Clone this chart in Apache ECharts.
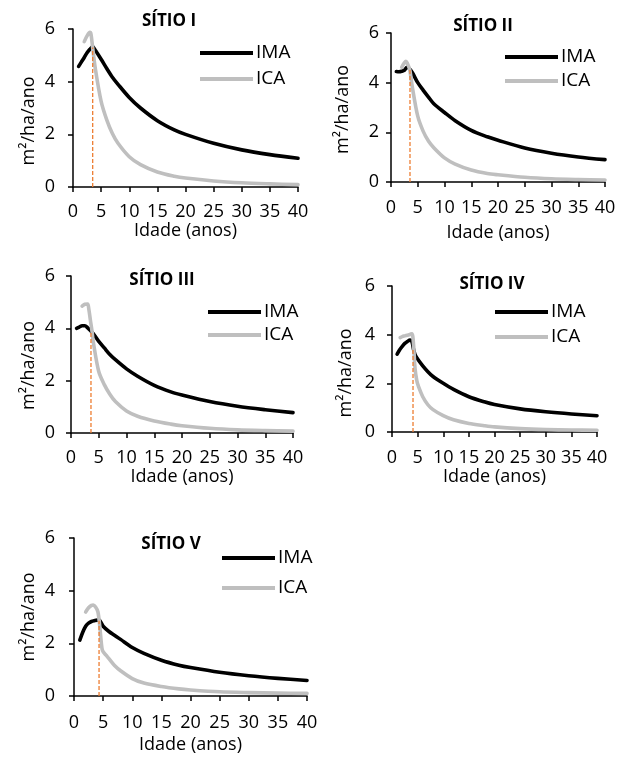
<!DOCTYPE html>
<html>
<head>
<meta charset="utf-8">
<script src="https://cdn.jsdelivr.net/npm/echarts@6/dist/echarts.min.js"></script>
<style>
html,body{margin:0;padding:0;background:#fff;}
#chart{width:627px;height:760px;}
</style>
</head>
<body>
<div id="chart"></div>
<script>
// ---- data ----
const siteTitles = ['SÍTIO I', 'SÍTIO II', 'SÍTIO III', 'SÍTIO IV', 'SÍTIO V'];
const seriesNames = ['IMA', 'ICA'];
const xAxisName = 'Idade (anos)';
const yAxisName = 'm²/ha/ano';

const imaX1 = [1,1.5,2,2.5,3,3.5,4,5,6,7,8,10,12,15,18,20,25,30,35,40];
const imaY1 = [4.58,4.75,4.92,5.1,5.23,5.33,5.18,4.85,4.5,4.17,3.9,3.4,3.0,2.52,2.17,2.0,1.66,1.41,1.23,1.09];
const icaX1 = [2,2.5,3,3.2,3.5,4,5,6,7,8,10,12,15,18,20,25,30,35,40];
const icaY1 = [5.52,5.74,5.87,5.8,5.28,4.45,3.25,2.55,2.03,1.66,1.15,0.85,0.57,0.41,0.34,0.23,0.16,0.12,0.09];

const imaX2 = [1,1.5,2,2.5,3,3.5,4,5,6,7,8,10,12,15,18,20,25,30,35,40];
const imaY2 = [4.45,4.44,4.46,4.5,4.62,4.55,4.4,4.0,3.7,3.42,3.15,2.8,2.47,2.08,1.82,1.68,1.37,1.16,1.01,0.9];
const icaX2 = [2,2.5,2.8,3,3.5,4,5,6,7,8,10,12,15,18,20,25,30,35,40];
const icaY2 = [4.62,4.8,4.86,4.8,4.52,3.8,2.65,2.05,1.65,1.38,0.97,0.72,0.48,0.34,0.29,0.19,0.13,0.1,0.08];

const imaX3 = [1,1.5,2,2.5,3,3.5,4,5,6,7,8,10,12,15,18,20,25,30,35,40];
const imaY3 = [4.0,4.05,4.1,4.1,4.02,3.92,3.8,3.5,3.25,3.0,2.8,2.45,2.17,1.82,1.57,1.45,1.2,1.02,0.89,0.78];
const icaX3 = [2,2.5,3,3.2,3.5,3.8,4,5,6,7,8,10,12,15,18,20,25,30,35,40];
const icaY3 = [4.85,4.92,4.93,4.75,4.3,3.87,3.5,2.35,1.85,1.48,1.2,0.84,0.64,0.46,0.34,0.28,0.18,0.12,0.09,0.07];

const imaX4 = [1,1.5,2,2.5,3,3.5,3.9,4.2,4.5,5,6,7,8,10,12,15,18,20,25,30,35,40];
const imaY4 = [3.2,3.38,3.52,3.64,3.72,3.78,3.7,3.4,3.18,3.0,2.72,2.48,2.28,2.0,1.75,1.45,1.24,1.13,0.95,0.83,0.74,0.67];
const icaX4 = [1.6,2,2.5,3,3.5,3.9,4.2,4.5,4.85,5.2,6,7,8,10,12,15,18,20,25,30,35,40];
const icaY4 = [3.88,3.92,3.95,3.98,4.01,4.04,3.6,2.6,2.1,1.85,1.45,1.12,0.92,0.67,0.5,0.35,0.26,0.21,0.14,0.1,0.08,0.07];

const imaX5 = [1,1.5,2,2.5,3,3.5,4,4.3,5,6,7,8,10,12,15,18,20,25,30,35,40];
const imaY5 = [2.12,2.42,2.65,2.77,2.83,2.86,2.88,2.88,2.65,2.45,2.3,2.15,1.84,1.62,1.36,1.17,1.08,0.9,0.77,0.67,0.59];
const icaX5 = [2,2.5,3,3.3,3.7,4.1,4.4,4.7,4.9,5.5,6,7,8,10,12,15,18,20,25,30,35,40];
const icaY5 = [3.19,3.35,3.44,3.45,3.38,3.2,2.7,2.0,1.72,1.55,1.42,1.15,0.96,0.66,0.49,0.36,0.27,0.23,0.16,0.13,0.11,0.1];

// age and value where IMA = ICA (orange dashed marker), one per site
const crossX = [3.5, 3.55, 3.6, 4.1, 4.3];
const crossY = [5.3, 4.55, 3.88, 3.4, 2.86];

const xTicks = {min: 0, max: 40, interval: 5};
const yTicks = {min: 0, max: 6, interval: 2};

// ---- layout (positions / styles only) ----
const FONT = '"Open Sans", sans-serif';
const grids = [
  {left: 73, top: 29, width: 225, height: 158},
  {left: 391, top: 33, width: 214, height: 149},
  {left: 71, top: 276, width: 222, height: 157},
  {left: 392, top: 286, width: 205, height: 146},
  {left: 74, top: 538, width: 233, height: 158}
];
const titlePos = [[169, 21], [483, 26], [162, 280], [492, 284], [171, 544]];
const legendPos = [
  {left: 200, top: 43, gap: 6},
  {left: 505, top: 47, gap: 4},
  {left: 208, top: 302, gap: 3},
  {left: 495, top: 302, gap: 5},
  {left: 222, top: 548, gap: 10}
];
const yLabelMargin = [18, 12, 16, 17, 19];
const xLabelMargin = [16, 17, 16, 17, 18];
const xNameGap = [33, 42, 30, 34, 40];
const yNameGap = [35, 39, 33, 37, 36];
const yNameShift = [13, 2, 11, 14, 0];

const imaXs = [imaX1, imaX2, imaX3, imaX4, imaX5];
const imaYs = [imaY1, imaY2, imaY3, imaY4, imaY5];
const icaXs = [icaX1, icaX2, icaX3, icaX4, icaX5];
const icaYs = [icaY1, icaY2, icaY3, icaY4, icaY5];

const pair = (xs, ys) => xs.map((x, i) => [x, ys[i]]);

const option = {
  backgroundColor: '#fff',
  animation: false,
  title: [], legend: [], grid: [], xAxis: [], yAxis: [], series: []
};

for (let i = 0; i < 5; i++) {
  option.grid.push(Object.assign({containLabel: false}, grids[i]));
  option.title.push({
    text: siteTitles[i],
    left: titlePos[i][0], top: titlePos[i][1],
    textAlign: 'center', textVerticalAlign: 'middle', padding: 0,
    textStyle: {fontFamily: FONT, fontSize: 17, fontWeight: 'bold', color: '#000'}
  });
  option.legend.push({
    data: seriesNames,
    orient: 'vertical',
    left: legendPos[i].left, top: legendPos[i].top,
    itemGap: legendPos[i].gap,
    itemWidth: 53, itemHeight: 4, icon: 'rect', padding: 0,
    selectedMode: false,
    textStyle: {fontFamily: FONT, fontSize: 19, color: '#000', lineHeight: 20, padding: [0, 0, 0, -2]}
  });
  option.xAxis.push({
    type: 'value', gridIndex: i,
    min: xTicks.min, max: xTicks.max, interval: xTicks.interval,
    name: xAxisName, nameLocation: 'middle', nameGap: xNameGap[i],
    nameTextStyle: {fontFamily: FONT, fontSize: 18, color: '#000'},
    axisLine: {show: true, onZero: false, lineStyle: {color: '#000', width: 1.5}},
    axisTick: {show: true, inside: false, length: 5, lineStyle: {color: '#000', width: 1.5}},
    axisLabel: {fontFamily: FONT, fontSize: 18, color: '#000', margin: xLabelMargin[i]},
    splitLine: {show: false}
  });
  option.yAxis.push({
    type: 'value', gridIndex: i,
    min: yTicks.min, max: yTicks.max, interval: yTicks.interval,
    name: yAxisName, nameLocation: 'middle', nameGap: yNameGap[i],
    nameTextStyle: {fontFamily: FONT, fontSize: 18, color: '#000', padding: [0, yNameShift[i] * 2, 0, 0]},
    axisLine: {show: true, lineStyle: {color: '#000', width: 1.5}},
    axisTick: {show: true, inside: false, length: 5, lineStyle: {color: '#000', width: 1.5}},
    axisLabel: {fontFamily: FONT, fontSize: 18, color: '#000', margin: yLabelMargin[i]},
    splitLine: {show: false}
  });
  option.series.push({
    name: seriesNames[0], type: 'line', xAxisIndex: i, yAxisIndex: i,
    data: pair(imaXs[i], imaYs[i]),
    showSymbol: false, symbol: 'none', smooth: 0.3,
    color: '#000', lineStyle: {color: '#000', width: 3.6, cap: 'round', join: 'round'},
    z: 2
  });
  option.series.push({
    name: seriesNames[1], type: 'line', xAxisIndex: i, yAxisIndex: i,
    data: pair(icaXs[i], icaYs[i]),
    showSymbol: false, symbol: 'none', smooth: 0.3,
    color: '#BFBFBF', lineStyle: {color: '#BFBFBF', width: 3.6, cap: 'round', join: 'round'},
    z: 3
  });
  option.series.push({
    name: 'cross', type: 'line', xAxisIndex: i, yAxisIndex: i,
    data: [[crossX[i], 0], [crossX[i], crossY[i]]],
    showSymbol: false, symbol: 'none',
    color: '#ED7D31', lineStyle: {color: '#ED7D31', width: 1.3, type: [4, 2]},
    z: 4
  });
}

const chart = echarts.init(document.getElementById('chart'), null, {renderer: 'canvas'});
chart.setOption(option);
</script>
</body>
</html>
